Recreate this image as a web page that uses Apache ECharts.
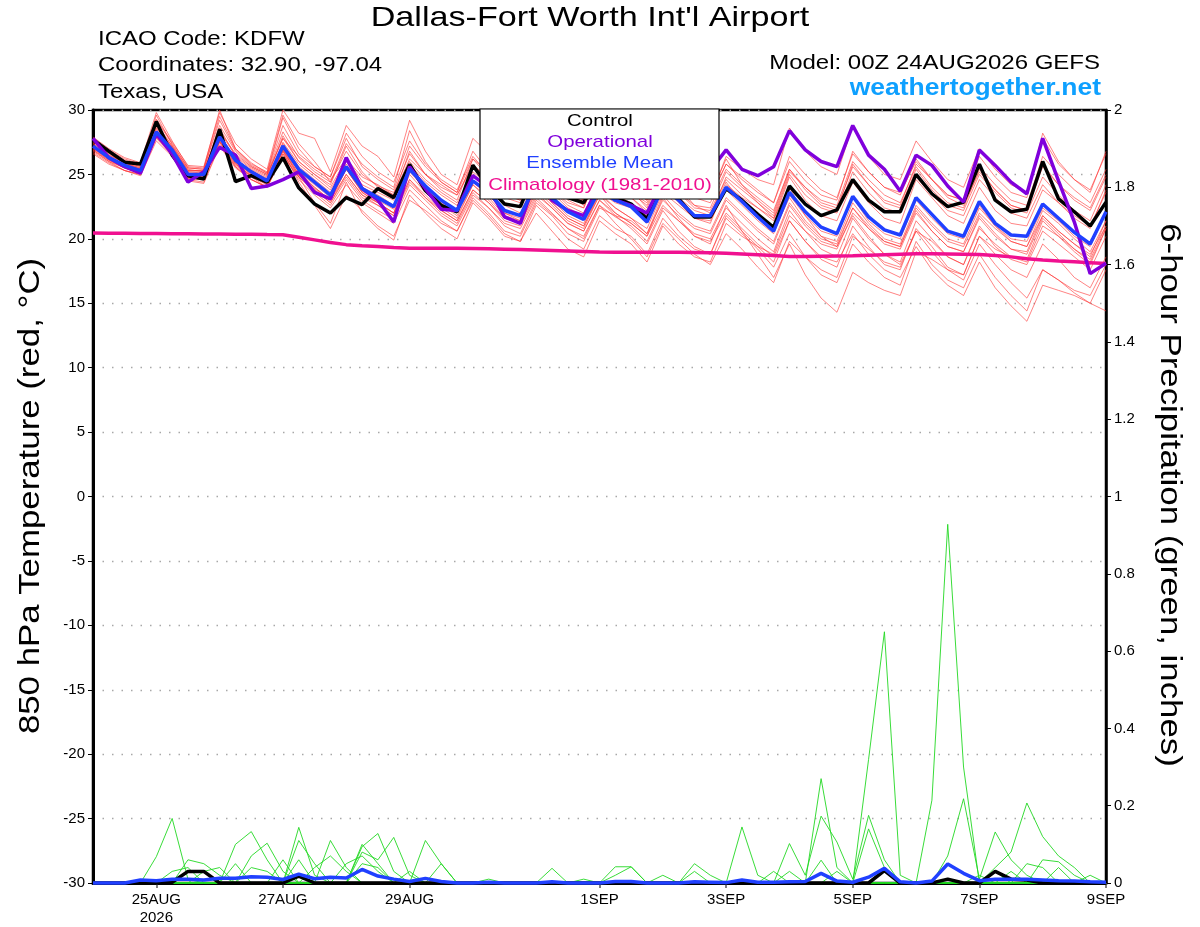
<!DOCTYPE html>
<html>
<head>
<meta charset="utf-8">
<script src="https://cdn.jsdelivr.net/npm/echarts@6/dist/echarts.min.js"></script>
<style>html,body{margin:0;padding:0;background:#fff;}#c{width:1200px;height:927px;}</style>
</head>
<body>
<div id="c"></div>
<script>
// ---------- DATA ----------
// 6-hourly steps from 00Z 24AUG2026 (hour offsets computed from step index)
const stepHours = 6;
const tickHours = [24, 72, 120, 192, 240, 288, 336, 384];
const tickLabels = ['25AUG\n2026', '27AUG', '29AUG', '1SEP', '3SEP', '5SEP', '7SEP', '9SEP'];

// 850 hPa temperature (°C)
const tempControl = [27.7,26.8,25.95,25.8,29.1,26.5,24.9,24.65,28.5,24.45,24.9,24.4,26.3,
  23.96,22.7,22.0,23.2,22.66,23.9,23.2,25.77,23.75,22.6,22.1,25.7,24.0,
  22.7,22.5,25.5,23.6,23.2,22.8,25.0,23.2,22.7,21.55,24.5,23.1,21.7,
  21.7,23.9,23.0,21.9,20.9,24.1,22.7,21.8,22.25,24.6,23.0,22.1,22.1,
  25.0,23.5,22.5,22.85,25.8,23.0,22.1,22.3,26.0,23.1,22.1,21.0,22.85];
const tempOperational = [27.8,26.3,25.6,25.1,28.15,26.6,24.4,25.2,27.1,26.5,23.9,24.1,24.6,
  25.2,23.6,23.1,26.3,23.9,23.0,21.3,25.6,23.9,22.3,22.2,24.9,24.0,
  21.7,21.2,24.8,23.0,22.2,21.8,24.2,23.0,22.6,22.0,24.5,24.0,24.5,
  25.3,26.9,25.4,24.9,25.6,28.4,26.9,26.0,25.6,28.8,26.5,25.4,23.7,
  26.5,25.7,24.1,22.85,26.9,25.7,24.4,23.5,27.8,24.5,21.3,17.3,18.1];
const tempMean = [27.2,26.3,25.7,25.3,28.3,26.9,25.0,25.0,27.9,26.1,25.2,24.5,27.2,
  25.4,24.4,23.4,25.6,23.9,23.2,22.5,25.4,24.1,23.0,22.2,24.5,23.6,
  22.2,21.8,24.3,23.2,22.1,21.5,23.8,23.0,22.5,21.3,24.0,23.0,21.8,
  21.8,24.0,22.9,21.7,20.6,23.6,22.1,20.9,20.4,23.3,21.7,20.7,20.3,
  23.2,21.9,20.6,20.2,22.9,21.2,20.3,20.2,22.7,21.6,20.5,19.6,22.1];
const tempClimatology = [20.45,20.44,20.43,20.42,20.41,20.40,20.39,20.38,20.37,20.36,20.35,20.33,20.32,
  20.12,19.92,19.72,19.55,19.47,19.40,19.33,19.27,19.27,19.27,19.26,19.25,19.23,
  19.20,19.17,19.14,19.10,19.06,19.02,18.98,18.96,18.96,18.96,18.96,18.96,18.94,
  18.92,18.88,18.82,18.76,18.70,18.62,18.62,18.64,18.66,18.68,18.72,18.76,18.80,
  18.84,18.84,18.82,18.80,18.78,18.70,18.60,18.45,18.35,18.28,18.22,18.15,18.08];

const tempMember01 = [27.6,26.7,26.0,25.6,29.0,27.2,25.4,25.2,28.8,26.8,25.6,25.0,28.3,26.3,25.2,24.4,26.8,25.0,24.1,23.6,26.6,25.0,24.0,23.4,25.8,24.6,23.5,23.0,25.6,24.4,23.4,22.9,25.2,24.2,23.8,23.0,25.6,24.6,23.6,23.2,25.8,24.6,23.6,22.8,26.0,24.5,23.4,23.0,26.8,25.2,24.0,23.6,26.0,24.6,23.4,23.0,25.6,24.2,23.0,22.6,26.4,25.0,23.8,22.8,25.4];
const tempMember02 = [26.8,26.0,25.3,25.0,27.8,26.5,24.6,24.4,27.3,25.6,24.6,24.0,26.6,24.8,23.6,22.6,24.6,23.0,22.2,21.5,24.2,23.0,21.8,21.0,23.4,22.4,21.0,20.4,23.0,21.9,20.8,20.2,22.6,21.7,21.0,19.8,22.4,21.4,20.4,20.0,22.4,21.2,20.0,19.0,22.2,20.6,19.2,18.6,21.6,20.0,18.8,18.2,21.4,20.0,18.6,18.0,21.0,19.4,18.4,18.0,20.6,19.6,18.6,17.6,20.2];
const tempMember03 = [27.4,26.5,25.9,25.5,29.6,27.3,25.5,25.4,29.5,27.0,25.9,25.1,29.4,27.0,25.6,24.8,28.2,26.4,25.2,24.4,27.6,25.8,24.6,23.8,26.4,25.0,23.8,23.2,26.2,24.8,23.6,23.0,26.0,24.8,23.8,23.0,26.2,24.8,23.6,23.2,26.4,25.4,24.6,24.2,28.6,26.8,25.6,25.0,28.8,26.4,25.0,24.6,27.6,26.0,24.6,24.0,27.0,25.4,24.2,23.6,27.8,25.8,24.6,23.8,26.6];
const tempMember04 = [27.0,26.2,25.6,25.2,28.0,26.8,25.0,24.8,27.6,26.0,25.0,24.4,27.0,25.0,23.8,22.8,25.0,23.4,22.8,22.0,24.6,23.4,22.2,21.4,23.8,22.8,21.4,21.0,23.4,22.4,21.2,20.6,23.0,21.8,20.8,19.6,22.2,20.6,19.4,18.8,21.6,20.4,19.2,17.8,20.4,18.6,17.2,16.6,19.6,18.2,17.0,16.4,19.8,18.0,16.8,16.2,18.8,17.0,15.6,14.4,17.6,16.8,15.8,15.0,17.6];
const tempMember05 = [27.2,26.3,25.8,25.4,28.4,27.0,25.2,25.1,28.1,26.2,25.3,24.6,27.4,25.6,24.6,23.6,25.8,24.0,23.4,22.6,25.6,24.2,23.0,22.2,24.4,23.4,22.0,21.4,24.0,22.8,21.6,21.0,23.4,22.0,21.2,20.2,23.2,21.6,20.2,19.6,22.6,20.6,18.8,17.0,19.6,17.2,15.4,14.3,17.4,16.6,16.0,15.6,19.0,18.4,17.6,17.2,20.2,19.2,18.6,18.4,21.4,20.2,19.0,18.0,20.8];
const tempMember06 = [27.5,26.6,25.9,25.5,28.7,27.1,25.3,25.3,28.3,26.5,25.5,24.9,27.8,26.0,25.0,24.0,26.2,24.5,23.8,23.2,26.0,24.6,23.6,22.8,25.2,24.2,22.8,22.4,25.0,23.8,22.6,22.0,24.4,23.6,23.2,22.0,24.8,23.6,22.4,22.2,24.6,23.4,22.4,21.4,24.8,23.0,21.8,21.4,24.4,22.8,21.6,21.2,24.6,23.2,21.8,21.2,24.0,22.2,21.2,21.0,23.8,22.8,21.6,20.8,23.8];
const tempMember07 = [26.9,26.1,25.5,25.2,28.1,26.7,24.8,24.7,27.6,25.8,24.9,24.3,26.8,24.4,22.6,20.8,23.4,22.2,21.0,20.2,23.0,22.2,21.2,20.6,23.2,22.0,20.6,20.2,22.8,21.8,20.4,19.8,22.4,21.8,21.4,20.4,23.4,22.0,21.0,20.6,23.2,22.0,20.8,19.8,22.8,21.2,20.0,19.6,22.4,21.0,19.8,19.4,22.2,20.6,19.4,19.0,21.6,20.2,19.2,19.0,21.8,20.6,19.6,18.6,21.4];
const tempMember08 = [27.8,26.9,26.2,25.8,29.3,27.5,25.7,25.6,29.8,27.4,26.2,25.4,30.0,28.2,27.8,25.2,28.8,27.2,26.4,24.8,29.2,26.8,25.0,24.2,27.8,26.6,24.6,24.0,26.8,25.2,24.0,23.4,25.8,24.6,23.6,22.6,25.4,24.2,23.2,22.8,25.4,24.2,23.2,22.2,25.4,23.8,22.6,22.2,25.8,24.2,22.8,22.4,25.4,23.8,22.6,22.2,25.0,23.6,22.4,22.0,24.8,23.4,22.2,21.4,24.2];
const tempMember09 = [27.1,26.2,25.6,25.3,28.2,26.8,24.9,24.9,27.8,25.9,24.8,24.0,26.9,24.8,22.8,21.2,24.4,22.0,20.8,19.9,23.4,22.0,20.8,20.0,22.8,21.6,20.2,19.8,22.6,21.4,20.0,19.2,21.8,20.8,20.2,18.8,21.6,20.2,19.2,18.8,21.8,20.6,19.4,18.2,21.4,19.8,18.4,17.8,21.0,19.4,18.0,17.6,20.8,19.4,17.8,17.2,20.2,18.8,17.6,17.0,19.6,18.4,17.0,16.2,18.6];
const tempMember10 = [27.3,26.4,25.8,25.4,28.5,27.0,25.1,25.0,28.0,26.2,25.3,24.7,27.5,25.8,24.8,23.8,26.0,24.2,23.6,23.0,25.8,24.4,23.4,22.6,25.0,24.0,22.6,22.0,24.8,23.6,22.4,21.8,24.6,23.4,22.8,21.8,24.8,23.6,22.6,22.4,25.2,24.0,23.0,22.0,25.4,24.0,22.8,22.4,25.6,24.2,23.0,22.6,25.8,24.6,23.4,23.0,26.4,24.8,23.6,23.2,28.2,26.0,24.6,23.6,26.8];
const tempMember11 = [26.6,25.8,25.3,24.9,27.6,26.4,24.5,24.3,27.2,25.5,24.6,24.0,26.4,24.8,23.8,22.8,24.8,23.2,22.6,21.8,24.6,23.2,22.0,21.2,23.6,22.4,21.2,20.8,23.2,22.0,20.8,20.0,22.6,21.2,20.0,18.6,21.2,20.0,18.8,18.0,20.4,19.2,17.8,16.6,19.8,18.6,17.6,17.0,20.2,19.2,18.2,17.8,20.6,19.8,18.6,18.0,20.8,19.6,18.6,18.2,21.0,20.2,19.2,18.4,21.0];
const tempMember12 = [27.2,26.4,25.7,25.3,28.2,26.9,25.0,24.9,27.8,26.0,25.1,24.5,27.1,25.2,24.2,23.2,25.4,23.7,23.0,22.3,25.2,23.9,22.8,22.0,24.4,23.4,22.0,21.6,24.2,23.0,21.8,21.2,23.6,22.8,22.4,21.2,24.0,22.8,21.6,21.4,23.8,22.6,21.4,20.4,23.4,21.8,20.6,20.2,23.2,21.4,20.4,20.0,23.0,21.6,20.4,20.0,22.6,21.0,20.0,19.8,22.4,21.4,20.2,19.4,22.0];
const tempMember13 = [27.6,26.7,26.0,25.6,28.8,27.2,25.3,25.3,28.4,26.6,25.6,25.0,27.8,26.4,25.4,24.6,26.2,24.8,24.2,23.4,26.2,25.0,24.2,23.4,25.6,24.8,23.4,23.0,25.8,24.6,23.4,22.6,24.8,24.0,23.6,22.8,25.6,24.6,23.6,23.4,26.2,24.2,22.8,21.6,24.0,21.8,20.2,19.4,21.8,20.2,18.8,18.0,20.6,19.0,17.6,16.8,19.6,18.0,16.6,15.4,17.6,16.8,16.0,15.6,18.0];
const tempMember14 = [27.0,26.1,25.5,25.1,28.0,26.6,24.8,24.8,27.6,25.8,24.9,24.2,26.9,25.0,24.0,23.0,25.4,23.6,22.8,22.0,25.0,23.6,22.4,21.6,24.2,23.0,21.6,21.2,23.8,22.6,21.4,20.8,23.4,22.4,21.6,20.8,23.6,22.6,21.6,21.2,24.2,23.2,22.4,21.6,25.0,23.4,22.4,22.0,25.2,23.6,22.4,22.0,24.8,23.4,22.2,21.8,24.6,23.2,22.0,21.6,24.2,22.8,21.8,21.0,23.6];
const tempMember15 = [27.9,27.0,26.3,25.9,29.8,27.6,25.6,25.5,30.0,27.0,25.8,25.2,29.6,27.4,26.0,24.4,27.4,25.8,24.8,24.0,28.4,26.0,24.4,23.6,26.8,25.2,23.8,23.4,25.4,23.8,22.8,22.4,25.4,24.4,23.8,22.4,25.2,24.0,22.6,22.0,24.4,22.8,21.6,20.6,23.2,21.4,20.2,19.8,22.8,21.2,20.0,19.6,22.6,21.2,20.0,19.6,22.4,21.0,19.8,19.4,22.2,21.2,20.0,19.0,21.4];
const tempMember16 = [26.7,25.9,25.3,25.0,27.9,26.5,24.7,24.6,27.5,25.7,24.8,24.2,26.8,24.9,23.9,23.0,25.0,23.4,22.6,21.8,24.4,23.2,22.2,21.4,23.8,22.8,21.6,21.2,23.6,22.4,21.2,20.6,23.0,22.0,21.2,20.2,22.6,21.4,20.2,19.8,22.0,20.8,19.6,18.6,21.4,19.8,18.6,18.2,20.4,18.8,17.6,17.0,19.4,17.6,16.4,15.6,18.2,16.2,14.8,13.6,16.4,16.0,15.6,15.0,14.4];
const tempMember17 = [27.4,26.5,25.9,25.4,28.6,27.1,25.2,25.2,28.6,26.4,25.4,24.8,28.0,26.0,25.0,24.2,27.2,25.2,24.0,23.4,26.8,25.0,23.8,23.0,26.2,24.8,23.2,22.8,25.2,24.2,23.0,22.4,25.4,24.2,23.2,22.2,24.4,23.2,22.2,21.8,24.8,23.8,22.8,21.8,25.2,24.0,23.0,22.6,26.0,24.6,23.4,22.8,25.6,24.0,22.8,22.4,25.4,23.8,22.6,22.2,25.8,24.2,23.0,22.2,24.8];
const tempMember18 = [26.9,26.0,25.5,25.1,27.9,26.6,24.7,24.6,27.5,25.6,24.6,24.0,26.6,24.6,23.4,22.4,24.2,22.8,22.0,21.2,23.8,22.6,21.4,20.6,23.0,21.8,20.4,19.8,22.0,20.6,19.2,18.6,21.4,20.4,19.6,18.2,21.0,19.6,18.6,18.2,21.2,20.2,19.4,18.8,21.8,20.6,19.6,19.2,22.0,20.8,19.8,19.4,22.4,21.0,19.8,19.4,22.0,20.8,19.8,19.4,21.8,20.6,19.6,18.8,21.0];
const tempMember19 = [27.7,26.8,26.1,25.7,29.2,27.4,25.5,25.4,29.2,26.9,25.7,25.1,28.8,26.6,25.6,24.8,27.8,25.6,24.6,23.8,27.2,25.6,24.4,23.6,26.2,25.2,23.8,23.2,26.0,24.8,23.6,23.0,25.8,24.8,24.2,23.2,26.0,24.8,23.6,23.2,25.8,24.8,23.8,22.8,26.4,25.0,23.8,23.2,26.6,25.2,24.0,23.4,26.2,24.6,23.2,22.6,25.2,23.8,22.6,22.2,25.6,24.2,23.2,22.4,25.0];
const tempMember20 = [27.1,26.2,25.6,25.2,28.3,26.8,25.0,24.9,27.9,25.9,25.0,24.4,27.0,25.2,24.0,23.0,25.4,23.6,22.8,22.0,25.4,23.8,22.6,21.8,24.2,23.2,21.8,21.4,24.0,22.8,21.6,21.0,23.6,22.4,21.6,20.4,23.0,21.8,20.8,20.4,23.0,21.8,20.6,19.6,22.6,21.0,19.8,19.4,22.4,20.8,19.6,19.2,22.0,20.6,19.4,19.0,21.8,20.4,19.2,18.8,21.6,20.4,19.2,18.2,20.8];
const tempMembers = [tempMember01,tempMember02,tempMember03,tempMember04,tempMember05,tempMember06,tempMember07,tempMember08,tempMember09,tempMember10,
  tempMember11,tempMember12,tempMember13,tempMember14,tempMember15,tempMember16,tempMember17,tempMember18,tempMember19,tempMember20];

// 6-hour precipitation (inches)
const precipControl = [0,0,0,0,0,0.002,0.03,0.03,0,0,0,0,0,
  0.018,0,0,0,0,0,0,0,0,0,0,0,0,
  0,0,0,0,0,0,0,0,0,0,0,0,0,
  0,0,0,0,0,0,0,0,0,0,0,0.032,0,
  0,0,0.01,0,0,0.03,0.01,0.008,0,0,0,0,0];
const precipMean = [0,0,0,0.008,0.006,0.01,0.01,0.008,0.012,0.012,0.016,0.015,0.009,
  0.023,0.011,0.015,0.013,0.035,0.018,0.01,0.004,0.012,0.004,0,0,0.002,
  0,0,0,0.003,0,0,0,0.004,0.004,0,0,0,0.003,
  0.002,0.001,0.008,0.002,0.002,0.003,0.004,0.025,0.005,0.002,0.015,0.038,0.003,
  0,0.005,0.049,0.025,0.006,0.01,0.01,0.01,0.008,0.006,0.005,0.003,0.002];
const precipMember01 = [0,0,0,0,0.068,0.167,0.01,0,0,0,0,0,0, 0,0,0,0,0,0,0,0,0,0,0,0,0, 0,0,0,0,0,0,0,0,0,0,0,0,0, 0,0,0,0,0,0,0,0,0,0,0,0,0, 0,0,0,0,0,0,0,0,0,0,0,0,0];
const precipMember02 = [0,0,0,0,0,0,0.06,0.05,0.02,0,0,0,0, 0.144,0.02,0,0,0,0,0,0,0,0,0,0,0, 0,0,0,0,0,0,0,0,0,0,0,0,0, 0,0,0,0,0,0,0,0,0,0,0,0,0, 0,0,0,0,0,0,0,0,0,0,0,0,0];
const precipMember03 = [0,0,0,0,0,0,0,0,0,0.10,0.133,0.06,0, 0,0,0,0,0.094,0.128,0.03,0,0,0,0,0,0, 0,0,0,0,0,0,0,0,0,0,0,0,0, 0,0,0,0,0,0,0,0,0,0,0,0,0, 0,0,0,0,0,0,0,0,0,0,0,0,0];
const precipMember04 = [0,0,0,0,0,0,0,0,0,0,0.07,0.103,0.03, 0,0,0.11,0.04,0,0,0,0,0.11,0.05,0,0,0, 0,0,0,0,0,0,0,0,0,0,0,0,0, 0,0,0,0,0,0,0,0,0,0,0,0,0, 0,0,0,0,0,0,0,0,0,0,0,0,0];
const precipMember05 = [0,0,0,0,0,0,0,0,0,0,0,0,0, 0.11,0.05,0,0,0.08,0.06,0.118,0.02,0,0,0,0,0, 0,0,0,0,0,0,0,0.042,0.042,0,0,0,0, 0,0,0,0,0,0,0,0,0,0,0,0,0, 0,0,0,0,0,0,0,0,0,0,0,0,0];
const precipMember06 = [0,0,0,0,0,0.03,0.04,0,0,0.05,0,0,0.06, 0,0,0,0,0.1,0.05,0,0,0,0,0,0,0, 0,0,0,0.038,0,0,0,0,0,0,0,0,0, 0,0,0,0,0,0,0,0,0,0,0,0,0, 0,0,0,0,0,0,0,0,0,0,0,0,0];
const precipMember07 = [0,0,0,0,0,0,0,0,0,0,0,0,0, 0,0,0,0,0,0,0,0,0,0,0,0,0, 0,0,0,0,0,0,0,0,0,0,0,0,0, 0,0,0.145,0.02,0,0,0,0.27,0.04,0,0,0.04,0, 0,0,0,0,0,0,0,0,0,0,0,0,0];
const precipMember08 = [0,0,0,0,0,0,0,0,0,0,0,0,0, 0,0,0,0,0,0,0,0,0,0,0,0,0, 0,0,0,0,0,0,0,0,0,0,0,0,0, 0,0,0,0,0,0.102,0.02,0.173,0.106,0.01,0.175,0.06,0, 0,0,0,0,0,0,0,0,0,0,0,0,0];
const precipMember09 = [0,0,0,0,0,0,0,0,0,0,0,0,0, 0,0,0,0,0,0,0,0,0,0,0,0,0, 0,0,0,0,0,0,0,0,0,0,0,0,0, 0,0,0,0,0,0,0,0,0,0,0.32,0.65,0.02, 0,0,0,0,0,0,0,0,0,0,0,0,0];
const precipMember10 = [0,0,0,0,0,0,0,0,0,0,0,0,0, 0,0,0,0,0,0,0,0,0,0,0,0,0, 0,0,0,0,0,0,0,0,0,0,0,0,0, 0,0,0,0,0,0,0,0,0,0,0,0,0, 0,0.214,0.928,0.3,0,0,0,0,0,0,0,0,0];
const precipMember11 = [0,0,0,0,0,0,0,0,0,0,0,0,0, 0,0,0,0,0,0,0,0,0,0,0,0,0, 0,0,0,0,0,0,0,0,0,0,0,0,0, 0,0,0,0,0,0,0,0,0,0,0,0,0, 0,0,0.07,0.218,0.01,0.132,0.06,0.02,0,0,0,0,0];
const precipMember12 = [0,0,0,0,0,0,0,0,0,0,0,0,0, 0,0,0,0,0,0,0,0,0,0,0,0,0, 0,0,0,0,0,0,0,0,0,0,0,0,0, 0,0,0,0,0,0,0,0,0,0,0,0,0, 0,0,0,0,0,0.04,0.08,0.207,0.12,0.07,0.04,0,0];
const precipMember13 = [0,0,0,0,0,0,0,0,0,0,0,0,0, 0,0,0,0,0,0,0,0,0,0,0,0,0, 0,0,0,0,0,0,0,0,0,0,0,0,0.05, 0.02,0,0,0,0.03,0,0,0.059,0,0,0.14,0.04,0, 0,0,0,0,0,0,0.03,0,0.06,0.055,0.02,0,0];
const precipMember14 = [0,0,0,0,0,0,0,0,0,0,0,0,0, 0,0.04,0.07,0.03,0,0,0,0,0,0.05,0,0,0, 0,0,0,0,0,0,0,0.02,0.042,0,0,0,0.03, 0,0,0,0,0,0,0,0,0,0,0,0,0, 0,0,0,0,0,0,0,0,0,0,0,0,0];
const precipMember15 = [0,0,0,0,0,0,0,0.03,0.04,0,0,0,0, 0,0,0,0.05,0.07,0.03,0,0,0,0,0,0,0, 0,0,0,0,0,0.01,0,0,0,0,0,0,0, 0,0,0,0,0,0.03,0,0,0,0,0,0,0, 0,0,0,0,0,0.03,0,0,0,0.04,0,0.02,0];
const precipMember16 = [0,0,0,0,0,0,0,0,0,0,0.04,0.03,0, 0.06,0,0,0,0.05,0.04,0,0.03,0,0,0,0,0.01, 0,0,0,0,0,0,0,0,0,0,0.02,0,0, 0,0,0,0,0,0,0,0,0.03,0,0,0,0, 0,0,0,0,0.02,0,0,0.05,0.04,0,0,0,0];
const precipMembers = [precipMember01,precipMember02,precipMember03,precipMember04,precipMember05,precipMember06,precipMember07,precipMember08,
  precipMember09,precipMember10,precipMember11,precipMember12,precipMember13,precipMember14,precipMember15,precipMember16];

// ---------- CHART ----------
const FONT = 'Liberation Sans, Arial, Helvetica, sans-serif';
const toPts = arr => arr.map((v, i) => [i * stepHours, v]);
const labelFor = v => { const k = tickHours.indexOf(Math.round(v)); return k >= 0 ? tickLabels[k] : ''; };

const series = [];
tempMembers.forEach(m => series.push({
  type: 'line', xAxisIndex: 0, yAxisIndex: 0, data: toPts(m), symbol: 'none', silent: true,
  lineStyle: { color: '#ff3030', width: 0.8, opacity: 0.75 }, z: 1
}));
precipMembers.forEach(m => series.push({
  type: 'line', xAxisIndex: 0, yAxisIndex: 1, data: toPts(m), symbol: 'none', silent: true, clip: true,
  lineStyle: { color: '#22d822', width: 0.9 }, z: 1
}));
series.push({ type: 'line', yAxisIndex: 0, data: toPts(tempClimatology), symbol: 'none',
  lineStyle: { color: '#f01090', width: 3.5 }, z: 3 });
series.push({ type: 'line', yAxisIndex: 0, data: toPts(tempControl), symbol: 'none',
  lineStyle: { color: '#000000', width: 3.5 }, z: 4 });
series.push({ type: 'line', yAxisIndex: 0, data: toPts(tempOperational), symbol: 'none',
  lineStyle: { color: '#8000dc', width: 3.5 }, z: 4 });
series.push({ type: 'line', yAxisIndex: 0, data: toPts(tempMean), symbol: 'none',
  lineStyle: { color: '#2040ff', width: 3.5 }, z: 5 });
series.push({ type: 'line', yAxisIndex: 1, data: toPts(precipControl), symbol: 'none', clip: false,
  lineStyle: { color: '#000000', width: 3.5 }, z: 4 });
series.push({ type: 'line', yAxisIndex: 1, data: toPts(precipMean), symbol: 'none', clip: false,
  lineStyle: { color: '#2040ff', width: 3.5 }, z: 5 });

const txt = (text, x, y, size, opts) => Object.assign({
  type: 'text', x: x, y: y, z: 200, scaleX: 1.2,
  style: Object.assign({ text: text, fontSize: size, fontFamily: FONT, fill: '#000',
    align: 'left', verticalAlign: 'middle' }, (opts && opts.style) || {})
}, (opts && opts.el) || {});

const option = {
  animation: false,
  backgroundColor: '#ffffff',
  textStyle: { fontFamily: FONT },
  grid: { left: 93, right: 94, top: 110, bottom: 41, show: true, borderColor: '#000', borderWidth: 2.5, containLabel: false },
  xAxis: {
    type: 'value', min: 0, max: 384, interval: 24,
    axisLine: { show: true, onZero: false, lineStyle: { color: '#000', width: 3 } },
    axisTick: { show: true, customValues: tickHours, length: 5, lineStyle: { color: '#555', width: 1.5 } },
    axisLabel: { customValues: tickHours, formatter: labelFor, fontSize: 15, color: '#000', margin: 8, lineHeight: 18,
      showMinLabel: true, showMaxLabel: true, hideOverlap: false },
    splitLine: { show: false }
  },
  yAxis: [
    {
      type: 'value', min: -30, max: 30, interval: 5, position: 'left',
      axisLine: { show: true, onZero: false, lineStyle: { color: '#000', width: 3 } },
      axisTick: { show: true, length: 5, lineStyle: { color: '#000', width: 1 } },
      axisLabel: { fontSize: 15, color: '#000', margin: 8 },
      splitLine: { show: true, lineStyle: { color: '#a8a8a8', width: 1.3, type: [1.5, 8] } }
    },
    {
      type: 'value', min: 0, max: 2, interval: 0.2, position: 'right',
      axisLine: { show: true, onZero: false, lineStyle: { color: '#000', width: 2.5 } },
      axisTick: { show: true, length: 5, lineStyle: { color: '#000', width: 1 } },
      axisLabel: { fontSize: 15, color: '#000', margin: 8, formatter: v => String(Math.round(v * 10) / 10) },
      splitLine: { show: false }
    }
  ],
  graphic: [
    txt("Dallas-Fort Worth Int'l Airport", 590, 18.5, 28, { el: { scaleX: 1.22 }, style: { align: 'center' } }),
    txt('ICAO Code: KDFW', 98, 39, 20),
    txt('Coordinates: 32.90, -97.04', 98, 65.5, 20),
    txt('Texas, USA', 98, 92, 20),
    txt('Model: 00Z 24AUG2026 GEFS', 1100, 63, 20, { style: { align: 'right' } }),
    txt('weathertogether.net', 1101, 88.5, 23, { el: { scaleX: 1.15 }, style: { align: 'right', fontWeight: 'bold', fill: '#0ea0ff' } }),
    { type: 'rect', z: 190, shape: { x: 480, y: 109, width: 239, height: 90 },
      style: { fill: '#fff', stroke: '#000', lineWidth: 1.2 } },
    txt('Control', 600, 121, 17, { style: { align: 'center' } }),
    txt('Operational', 600, 142, 17, { style: { align: 'center', fill: '#8000dc' } }),
    txt('Ensemble Mean', 600, 163.5, 17, { style: { align: 'center', fill: '#2040ff' } }),
    txt('Climatology (1981-2010)', 600, 185.5, 17, { style: { align: 'center', fill: '#f01090' } }),
    txt('850 hPa Temperature (red, °C)', 31, 496, 29, { el: { rotation: Math.PI / 2 }, style: { align: 'center' } }),
    txt('6-hour Precipitation (green, inches)', 1169, 495, 29, { el: { rotation: -Math.PI / 2 }, style: { align: 'center' } })
  ],
  series: series
};

const chart = echarts.init(document.getElementById('c'), null, { renderer: 'canvas' });
chart.setOption(option);
</script>
</body>
</html>
